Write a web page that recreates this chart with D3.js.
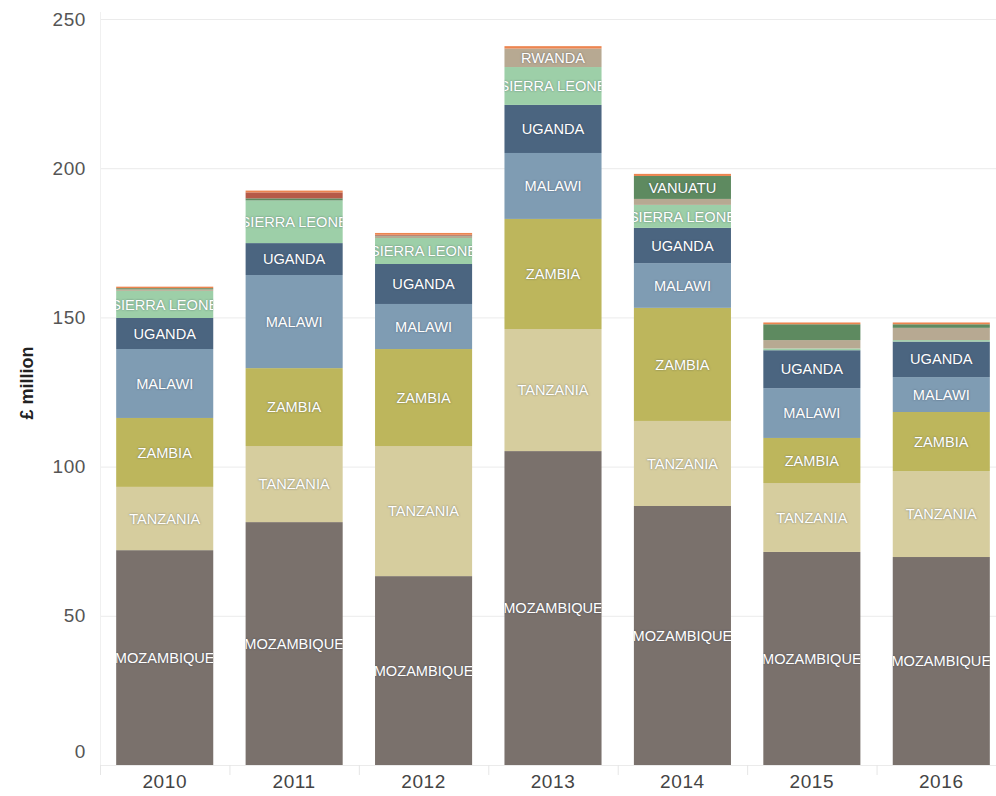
<!DOCTYPE html>
<html>
<head>
<meta charset="utf-8">
<script src="https://cdn.jsdelivr.net/npm/d3@7"></script>
<style>
  html, body { margin: 0; padding: 0; background: #ffffff; }
  svg { display: block; font-family: "Liberation Sans", Arial, sans-serif; }
  .seg-label { fill: #ffffff; font-size: 14.6px; text-shadow: 0 0 2px rgba(40,50,70,0.55); }
</style>
</head>
<body>
<svg id="chart" width="996" height="796"></svg>
<script>
const years = ["2010", "2011", "2012", "2013", "2014", "2015", "2016"];
const countries = ["MOZAMBIQUE", "TANZANIA", "ZAMBIA", "MALAWI", "UGANDA", "SIERRA LEONE", "RWANDA", "VANUATU", "OTHER", "REGIONAL"];
const colors = ["#7a716c", "#d6cd9e", "#bdb65c", "#7f9cb3", "#4b6580", "#9dcfa8", "#b7a992", "#5e8a60", "#b65a48", "#ec8550"];

const mozambique  = [72.0, 81.4, 63.3, 105.2, 86.8, 71.4, 69.7];
const tanzania    = [21.2, 25.5, 43.6, 40.9, 28.5, 23.1, 28.8];
const zambia      = [23.1, 26.1, 32.5, 36.9, 37.9, 15.1, 19.8];
const malawi      = [23.1, 31.2, 15.1, 22.1, 15.0, 16.7, 11.7];
const uganda      = [10.4, 10.7, 13.4, 16.1, 11.8, 12.7, 11.9];
const sierraLeone = [9.1, 14.3, 8.7, 12.7, 7.7, 0.6, 0.5];
const rwanda      = [0.5, 0.0, 0.6, 6.2, 2.0, 2.8, 4.1];
const vanuatu     = [0.4, 0.7, 0.2, 0.0, 7.7, 5.3, 1.2];
const other       = [0.0, 2.0, 0.3, 0.0, 0.0, 0.0, 0.0];
const regional    = [0.5, 0.6, 0.6, 0.8, 0.7, 0.6, 0.6];

const yTicks = [0, 50, 100, 150, 200, 250];
const yTitle = "£ million";

const seriesValues = [mozambique, tanzania, zambia, malawi, uganda, sierraLeone, rwanda, vanuatu, other, regional];

const rows = years.map((yr, i) => {
  const r = { year: yr };
  countries.forEach((c, k) => { r[c] = seriesValues[k][i]; });
  return r;
});

const svg = d3.select("#chart");
const x = d3.scaleBand().domain(years).range([100, 1006]).paddingInner(0.25).paddingOuter(0.125);
const y = d3.scaleLinear().domain([0, 250]).range([765, 19]);

// gridlines
svg.append("g").selectAll("line").data(yTicks).join("line")
  .attr("x1", 100).attr("x2", 996)
  .attr("y1", d => y(d) + 0.5).attr("y2", d => y(d) + 0.5)
  .attr("stroke", "#ebebeb").attr("stroke-width", 1);

// left axis line (faint)
svg.append("line").attr("x1", 100.5).attr("x2", 100.5).attr("y1", 12).attr("y2", 775)
  .attr("stroke", "#f0f0f0");

// y tick labels
svg.append("g").selectAll("text").data(yTicks).join("text")
  .attr("x", 86).attr("y", d => d === 0 ? y(d) - 14 : y(d))
  .attr("dy", "0.35em").attr("text-anchor", "end")
  .attr("fill", "#555555").style("font-size", "19px").style("letter-spacing", "0.6px")
  .text(d => d);

// y title
svg.append("text")
  .attr("transform", "translate(33,383) rotate(-90)")
  .attr("text-anchor", "middle")
  .attr("fill", "#222222").style("font-size", "18px").style("font-weight", "bold")
  .text(yTitle);

// x tick marks at band boundaries
const step = x.step();
const tickXs = years.map((d, i) => x.range()[0] + i * step);
svg.append("g").selectAll("line").data(tickXs).join("line")
  .attr("x1", d => d + 0.5).attr("x2", d => d + 0.5)
  .attr("y1", 765).attr("y2", 775)
  .attr("stroke", "#e6e6e6");

// x labels
svg.append("g").selectAll("text").data(years).join("text")
  .attr("x", d => x(d) + x.bandwidth() / 2).attr("y", 781)
  .attr("dy", "0.35em").attr("text-anchor", "middle")
  .attr("fill", "#444444").style("font-size", "19px").style("letter-spacing", "0.6px")
  .text(d => d);

// stacked bars
const stack = d3.stack().keys(countries);
const layers = stack(rows);

const defs = svg.append("defs");
years.forEach((yr, i) => {
  defs.append("clipPath").attr("id", "clip-" + i)
    .append("rect")
    .attr("x", x(yr)).attr("y", 0)
    .attr("width", x.bandwidth()).attr("height", 796);
});

const layerG = svg.append("g").selectAll("g").data(layers).join("g")
  .attr("fill", (d, k) => colors[k]);

layerG.selectAll("rect").data(d => d).join("rect")
  .attr("x", d => x(d.data.year))
  .attr("width", x.bandwidth())
  .attr("y", d => y(d[1]))
  .attr("height", d => Math.max(0, y(d[0]) - y(d[1])));

// segment labels
const labelG = svg.append("g");
layers.forEach((layer, k) => {
  layer.forEach((d, i) => {
    const h = y(d[0]) - y(d[1]);
    if (h > 17) {
      labelG.append("text")
        .attr("class", "seg-label")
        .attr("clip-path", "url(#clip-" + i + ")")
        .attr("x", x(d.data.year) + x.bandwidth() / 2)
        .attr("y", (y(d[0]) + y(d[1])) / 2)
        .attr("dy", "0.35em")
        .attr("text-anchor", "middle")
        .text(countries[k]);
    }
  });
});
</script>
</body>
</html>
